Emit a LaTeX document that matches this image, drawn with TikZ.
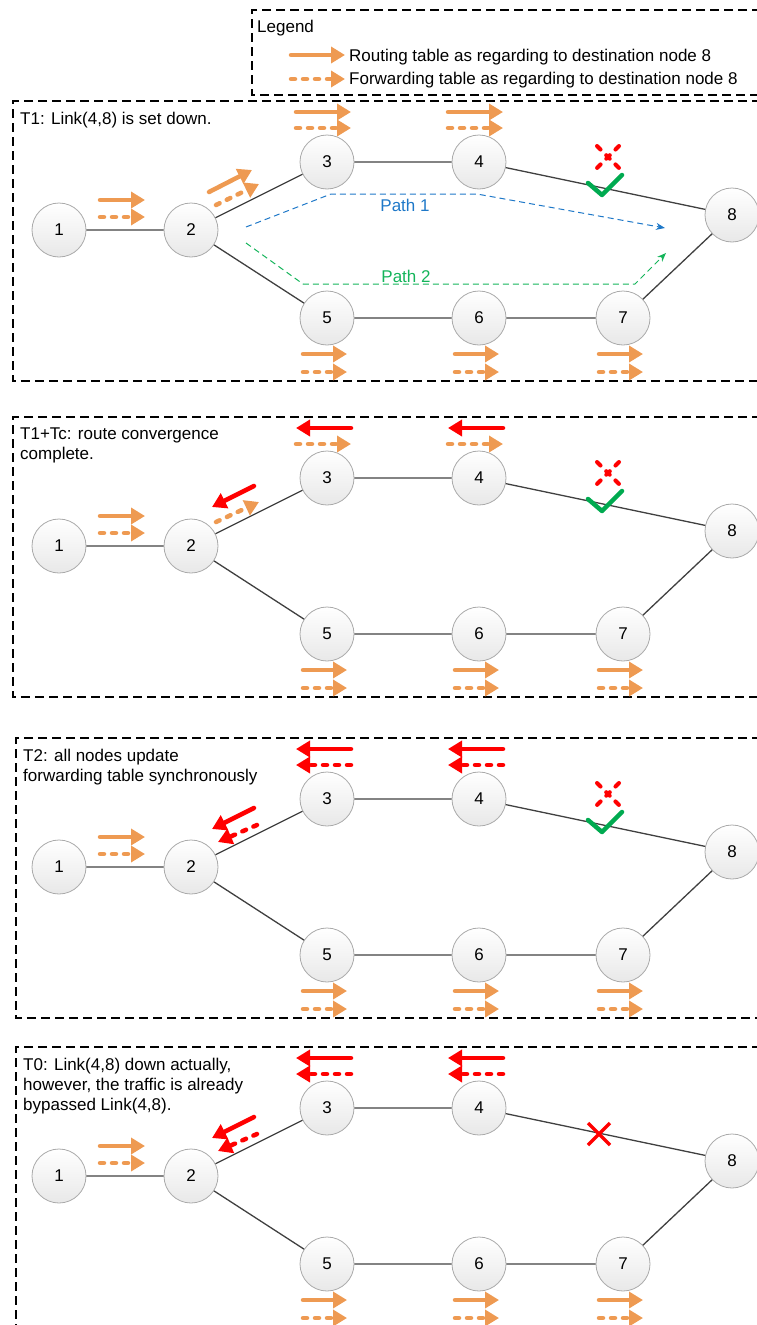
\documentclass[tikz,border=0pt]{standalone}
\usepackage{fontspec}
\setmainfont{Liberation Sans}
\usetikzlibrary{arrows.meta, positioning}

\definecolor{tableorange}{RGB}{238,154,82}
\definecolor{newred}{RGB}{255,0,0}
\definecolor{path1blue}{RGB}{30,120,200}
\definecolor{path2green}{RGB}{20,180,90}
\definecolor{checkgreen}{RGB}{0,170,80}
\definecolor{linkgray}{RGB}{64,64,64}
\definecolor{rimgray}{RGB}{170,170,170}

\begin{document}
\begin{tikzpicture}[
	x=1pt, y=-1pt,
	router/.style = {circle, draw=rimgray, line width=0.8pt, top color=white, bottom color=black!9, minimum size=54pt, inner sep=0pt, font=\fontsize{17}{20}\selectfont},
	link/.style = {draw=linkgray, line width=1.3pt},
	panel/.style = {draw, line width=1.5pt, dash pattern=on 9pt off 5pt},
	caption/.style = {inner sep=0pt, align=left, font=\fontsize{17}{20}\selectfont},
	route/.style = {draw=tableorange, line width=4.5pt, line cap=round, -{Triangle[length=14pt, width=16pt]}},
	fwd/.style = {route, dash pattern=on 4pt off 8pt},
	route new/.style = {route, draw=newred},
	fwd new/.style = {fwd, draw=newred},
	path one/.style = {draw=path1blue, line width=1pt, dash pattern=on 6pt off 4pt, -{Stealth[length=9pt, width=7pt]}},
	path two/.style = {path one, draw=path2green},
	down mark/.style = {draw=newred, line width=4pt, line cap=round, dash pattern=on 5pt off 8pt},
	cut mark/.style = {draw=newred, line width=3.5pt},
	check/.style = {draw=checkgreen, line width=4.5pt, line cap=round, line join=round}
]
\useasboundingbox (0,0) rectangle (757,1325);
\clip (0,0) rectangle (757,1325);

\draw[panel] (775,10) -| (252,95) -- (775,95);
\node[caption, anchor=base west] (legend title) at (257,32) {Legend};
\node[caption, anchor=base west] (routing label) at (349,61) {Routing table as regarding to destination node 8};
\node[caption, anchor=base west] (forwarding label) at (349,84) {Forwarding table as regarding to destination node 8};
\draw[route] (291,55) -- (345,55);
\draw[fwd] (291,79) -- (345,79);

\foreach \p/\top/\lft/\ttl in {
	a/101/13/{T1: Link(4,8) is set down.},
	b/417/13/{T1+Tc: route convergence\\complete.},
	c/738/16/{T2: all nodes update\\forwarding table synchronously},
	d/1047/16/{T0: Link(4,8) down actually,\\however, the traffic is already\\bypassed Link(4,8).}} {
	\draw[panel] (775,\top) -| (\lft,\top+280) -- (775,\top+280);
	\begin{scope}[shift={(0,\top)}]
		\node[caption, anchor=north west] (\p title) at (\lft+7,11) {\ttl};
		\node[router] (\p1) at (59,129) {1};
		\node[router] (\p2) at (191,129) {2};
		\node[router] (\p3) at (327,61) {3};
		\node[router] (\p4) at (479,61) {4};
		\node[router] (\p5) at (327,217) {5};
		\node[router] (\p6) at (479,217) {6};
		\node[router] (\p7) at (623,217) {7};
		\node[router] (\p8) at (732,114) {8};
	\end{scope}
	\draw[link] (\p1) -- (\p2) -- (\p3) -- (\p4) -- (\p8) -- (\p7) -- (\p6) -- (\p5) -- (\p2);
	\draw[route] ([shift={(-91,-30)}]\p2.center) -- ++(45,0);
	\draw[fwd] ([shift={(-91,-13)}]\p2.center) -- ++(45,0);
	\foreach \n in {5,6,7} {
		\draw[route] ([shift={(-24,36)}]\p\n.center) -- ++(44,0);
		\draw[fwd] ([shift={(-24,54)}]\p\n.center) -- ++(44,0);
	}
}

\draw[route] ([shift={(18,-38)}]a2.center) -- ++(43,-22);
\draw[fwd] ([shift={(25,-25)}]a2.center) -- ++(43,-21);
\foreach \n in {3,4} {
	\draw[route] ([shift={(-31,-50)}]a\n.center) -- ++(55,0);
	\draw[fwd] ([shift={(-31,-34)}]a\n.center) -- ++(55,0);
}

\draw[route new] ([shift={(63,-60)}]b2.center) -- ++(-42,21);
\draw[fwd] ([shift={(25,-24)}]b2.center) -- ++(43,-20);
\foreach \n in {3,4} {
	\draw[route new] ([shift={(24,-50)}]b\n.center) -- ++(-55,0);
	\draw[fwd] ([shift={(-31,-34)}]b\n.center) -- ++(55,0);
}

\foreach \p in {c,d} {
	\draw[route new] ([shift={(63,-59)}]\p2.center) -- ++(-42,21);
	\draw[fwd new] ([shift={(66,-42)}]\p2.center) -- ++(-39,17);
	\foreach \n in {3,4} {
		\draw[route new] ([shift={(24,-50)}]\p\n.center) -- ++(-55,0);
		\draw[fwd new] ([shift={(24,-34)}]\p\n.center) -- ++(-55,0);
	}
}

\foreach \top in {101,417,738} {
	\begin{scope}[shift={(0,\top)}]
		\draw[down mark] (597,45) -- (619,67) (619,45) -- (597,67);
		\draw[check] (588,82) -- (602,94) -- (622,74);
	\end{scope}
}
\begin{scope}[shift={(0,1047)}]
	\draw[cut mark] (588,76) -- (610,98) (610,76) -- (588,98);
\end{scope}

\begin{scope}[shift={(0,101)}]
	\draw[path one] (246,126) -- (331,93) -- (477,93) -- (665,127);
	\node[caption, text=path1blue] (path 1 label) at (405,104) {Path 1};
	\draw[path two] (246,142) -- (303,183) -- (635,183) -- (666,152);
	\node[caption, text=path2green] (path 2 label) at (406,175) {Path 2};
\end{scope}

\end{tikzpicture}
\end{document}
